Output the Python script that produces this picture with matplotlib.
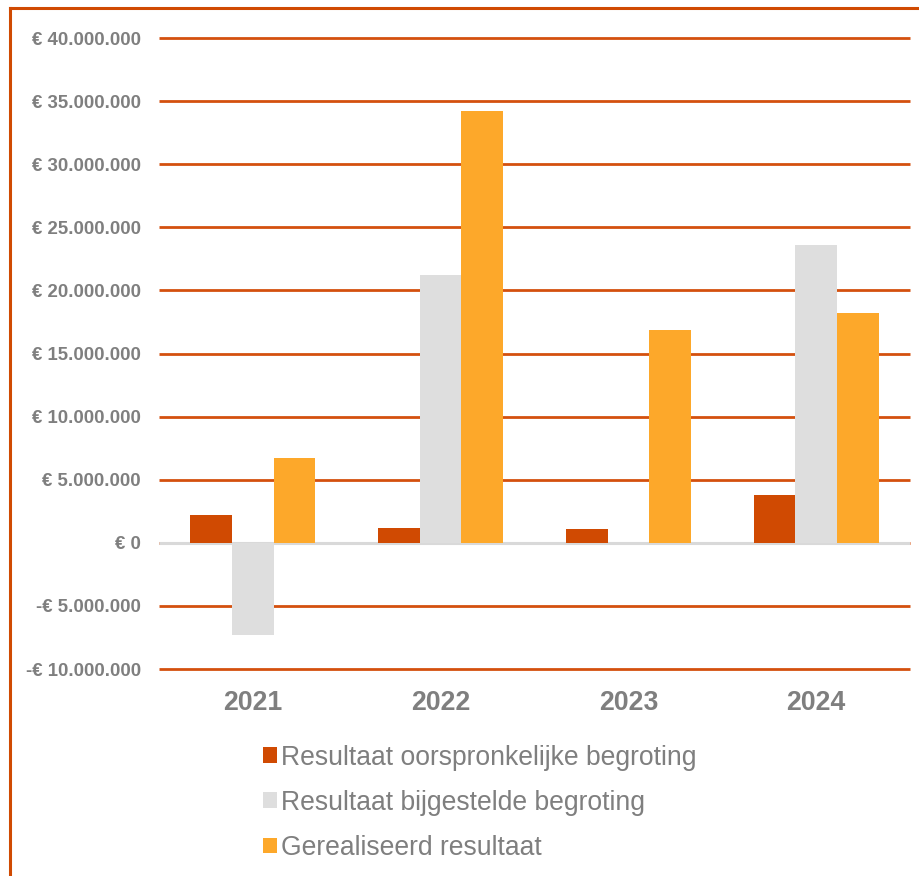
import matplotlib
matplotlib.use("Agg")
import matplotlib.pyplot as plt
from matplotlib.lines import Line2D
from matplotlib.ticker import FuncFormatter, MultipleLocator
import numpy as np

# Data
years = ["2021", "2022", "2023", "2024"]
series_names = [
    "Resultaat oorspronkelijke begroting",
    "Resultaat bijgestelde begroting",
    "Gerealiseerd resultaat",
]
oorspronkelijk = [2_200_000, 1_200_000, 1_100_000, 3_800_000]
bijgesteld = [-7_300_000, 21_200_000, 0, 23_600_000]
gerealiseerd = [6_700_000, 34_200_000, 16_900_000, 18_200_000]

colors = ["#D04A02", "#DEDEDE", "#FDA82A"]
grid_color = "#D4500E"
text_color = "#7F7F7F"

plt.rcParams["font.family"] = ["Liberation Sans", "DejaVu Sans"]

W, H = 920, 876
fig = plt.figure(figsize=(W / 100, H / 100), dpi=100)
ax = fig.add_axes([159 / W, 1 - 669 / H, (910 - 159) / W, (669 - 38) / H])


def euro(v, pos):
    if v == 0:
        return "€ 0"
    s = f"{abs(v):,.0f}".replace(",", ".")
    return ("-€ " if v < 0 else "€ ") + s


x = np.arange(len(years))
w = 1 / 4.5  # gap width 150%
bars = []
for i, (vals, c) in enumerate(zip([oorspronkelijk, bijgesteld, gerealiseerd], colors)):
    b = ax.bar(x + (i - 1) * w, vals, width=w, color=c, zorder=3, label=series_names[i])
    bars.append(b)

ax.set_xlim(-0.5, len(years) - 0.5)
ax.set_ylim(-10_000_000, 40_000_000)
ax.yaxis.set_major_locator(MultipleLocator(5_000_000))
ax.yaxis.set_major_formatter(FuncFormatter(euro))

ax.grid(axis="y", color=grid_color, linewidth=2, zorder=1)
for gl in ax.get_ygridlines():
    gl.set_clip_on(False)
    gl.set_solid_capstyle("butt")
ax.axhline(0, color="#D9D9D9", linewidth=2.2, zorder=2, solid_capstyle="butt")

for s in ax.spines.values():
    s.set_visible(False)
ax.tick_params(axis="y", length=0, pad=13, labelsize=13.4, labelcolor=text_color)
ax.tick_params(axis="x", length=0, pad=15, labelsize=19.2, labelcolor=text_color)
for lab in ax.get_yticklabels():
    lab.set_fontweight("bold")
ax.set_xticks(x)
ax.set_xticklabels(years, fontweight="bold")

fig.legend(
    handles=bars,
    labels=series_names,
    loc="upper left",
    bbox_to_anchor=(252 / W, 1 - 734 / H),
    frameon=False,
    fontsize=19.1,
    labelcolor=text_color,
    handlelength=0.53,
    handleheight=0.53,
    handletextpad=0.18,
    labelspacing=0.72,
    borderaxespad=0,
)

# orange frame at left and top edges
fig.add_artist(Line2D([10 / W, 10 / W], [0, 1 - 8 / H], color="#D04A02", linewidth=2.2))
fig.add_artist(Line2D([10 / W, 1], [1 - 8 / H, 1 - 8 / H], color="#D04A02", linewidth=2.2))

fig.savefig("out.png", dpi=100)
